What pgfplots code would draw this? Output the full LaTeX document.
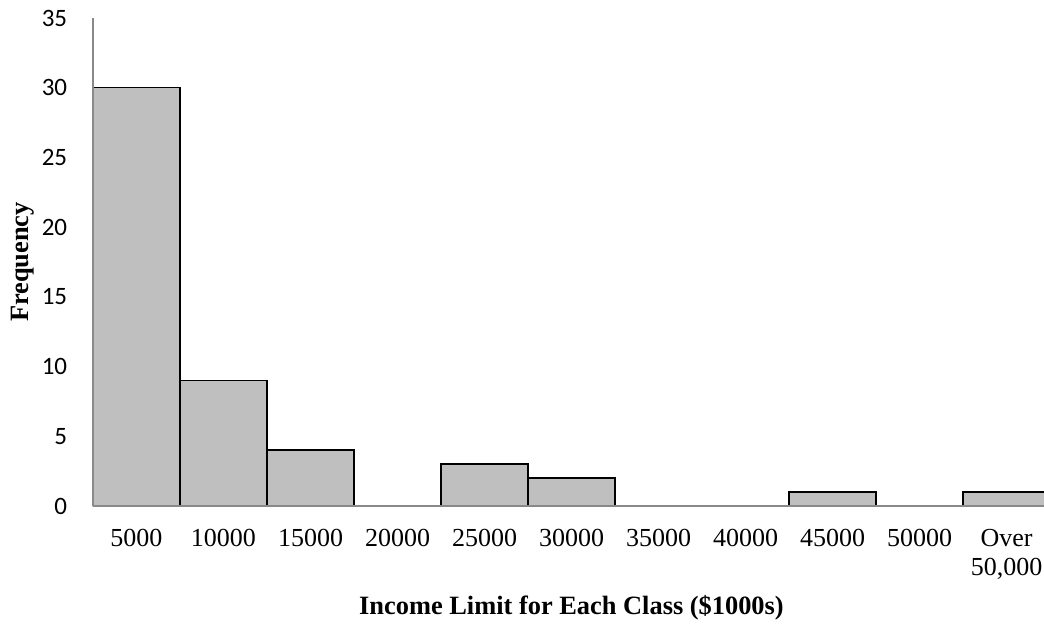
\documentclass[border=0pt]{standalone}
\usepackage{fontspec}
\setmainfont{Liberation Serif}
\newfontfamily\carlito{Carlito}
\usepackage{pgfplots}
\pgfplotsset{compat=1.18}
\definecolor{barfill}{HTML}{BFBFBF}
\definecolor{axgray}{HTML}{898989}
\begin{document}
\begin{tikzpicture}
\begin{axis}[
  scale only axis,
  width=478.5pt, height=244pt,
  xmin=-0.5, xmax=10.5,
  ymin=0, ymax=35,
  ytick={0,5,...,35},
  xtick={0,...,10},
  xticklabels={5000,10000,15000,20000,25000,30000,35000,40000,45000,50000,{Over\\50,000}},
  axis x line*=bottom,
  axis y line*=left,
  axis line style={draw=axgray, line width=0.75pt},
  axis on top,
  major tick length=0pt,
  /pgf/number format/assume math mode=true,
  yticklabel style={anchor=east, inner sep=0pt, xshift=-12.75pt, font=\carlito\fontsize{12.5}{15}\selectfont},
  xticklabel style={anchor=north, inner sep=0pt, yshift=-11.5pt, align=center, font=\fontsize{13}{14.5}\selectfont},
  xlabel={Income Limit for Each Class (\$1000s)},
  ylabel={Frequency},
  every axis x label/.style={at={(axis description cs:0.5,0)}, anchor=base, inner sep=0pt, yshift=-54pt, font=\bfseries\fontsize{13.2}{15}\selectfont},
  every axis y label/.style={at={(axis description cs:0,0.5)}, xshift=-32pt, rotate=90, anchor=base, inner sep=0pt, font=\bfseries\fontsize{13.2}{15}\selectfont},
  ybar, bar width=1, bar shift=0pt,
]
\addplot[fill=barfill, draw=black, line width=0.75pt] coordinates {
  (0,30) (1,9) (2,4) (3,0) (4,3) (5,2) (6,0) (7,0) (8,1) (9,0) (10,1)
};
\coordinate (bl) at (rel axis cs:0,0);
\end{axis}
\pgfresetboundingbox
\path (bl) ++(-46.5pt,-58.5pt) rectangle ++(522pt,311.5pt);
\end{tikzpicture}
\end{document}
